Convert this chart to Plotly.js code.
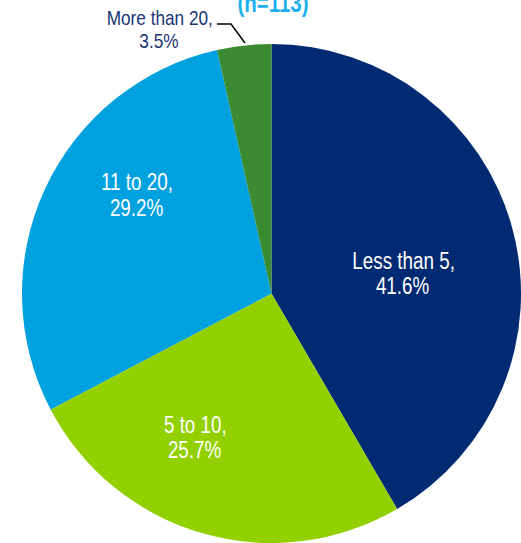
<!DOCTYPE html>
<html>
<head>
<meta charset="utf-8">
<script src="https://cdn.plot.ly/plotly-3.0.1.min.js"></script>
<style>html,body{margin:0;padding:0;overflow:hidden;background:#fff}</style>
</head>
<body>
<div id="chart" style="width:521px;height:543px"></div>
<script>
const categories = ["Less than 5", "5 to 10", "11 to 20", "More than 20"];
const shares = [41.6, 25.7, 29.2, 3.5];
const sliceColors = ["#002A72", "#92D000", "#00A1DF", "#3B8B33"];
const titleText = "(n=113)";

const FONT = '"Liberation Sans", Arial, sans-serif';
const NARROW = 0.82; // emulate Arial Narrow
const L = 22, T = 44, S = 499;
const px = x => (x - L) / S;
const py = y => 1 - (y - T) / S;

// label anchor spots (pixels) for line 1 and line 2 of each label
const labelSpots = [
  [[403, 261], [402, 286]],
  [[195, 425], [194.5, 450]],
  [[137, 181.5], [136.5, 208]],
  [[160, 17], [158.5, 40.5]]
];
const labelColors = ["#ffffff", "#ffffff", "#ffffff", "#1A3574"];

const annotations = [];
categories.forEach((c, i) => {
  const lines = [c + ",", shares[i].toFixed(1) + "%"];
  lines.forEach((t, j) => {
    annotations.push({
      xref: "paper", yref: "paper",
      x: px(labelSpots[i][j][0]), y: py(labelSpots[i][j][1]),
      xanchor: "center", yanchor: "middle",
      text: t, showarrow: false,
      font: {family: FONT, size: i === 3 ? 21 : 23, color: labelColors[i]}
    });
  });
});

const leader = [[217, 24], [231, 24], [245, 43]];
const path = "M " + leader.map(p => px(p[0]) + "," + py(p[1])).join(" L ");

const data = [{
  type: "pie",
  labels: categories,
  values: shares,
  sort: false,
  direction: "clockwise",
  rotation: 0,
  marker: {colors: sliceColors, line: {width: 0}},
  textinfo: "none",
  hoverinfo: "label+percent",
  showlegend: false
}];

const layout = {
  width: 521, height: 543,
  margin: {l: L, r: 0, t: T, b: 0},
  paper_bgcolor: "#ffffff",
  plot_bgcolor: "#ffffff",
  title: {
    text: "<b>" + titleText + "</b>",
    xref: "container", yref: "container",
    x: 273 / 521, xanchor: "center",
    y: 1 - 3.5 / 543, yanchor: "middle",
    font: {family: FONT, size: 25, color: "#1EB0EC"}
  },
  annotations: annotations,
  shapes: [{type: "path", xref: "paper", yref: "paper", path: path, line: {color: "#000000", width: 1.5}}]
};

Plotly.newPlot("chart", data, layout, {displayModeBar: false, staticPlot: true}).then(() => {
  document.querySelectorAll("#chart text.annotation-text, #chart text.gtitle").forEach(el => {
    try {
      const b = el.getBBox();
      const cx = b.x + b.width / 2;
      const prev = el.getAttribute("transform") || "";
      el.setAttribute("transform", prev + " translate(" + cx + ",0) scale(" + NARROW + ",1) translate(" + (-cx) + ",0)");
    } catch (e) {}
  });
});
</script>
</body>
</html>
